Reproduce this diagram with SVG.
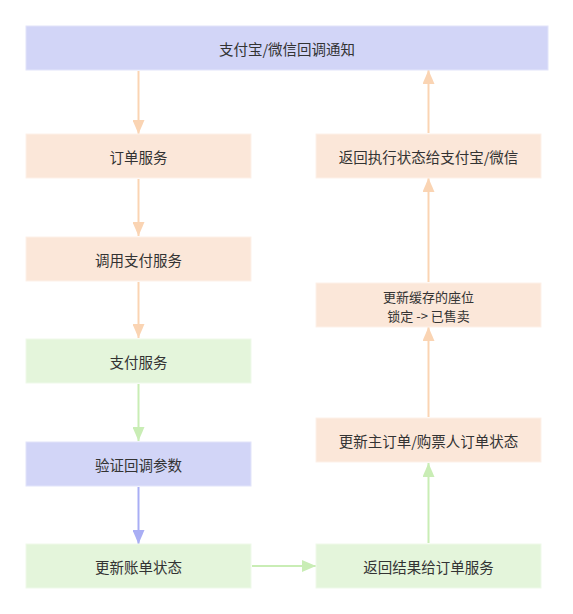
<svg xmlns="http://www.w3.org/2000/svg" width="573" height="614" viewBox="0 0 573 614">
<defs>
<style>
.t{font-family:"Noto Sans CJK SC","Noto Sans",sans-serif;font-size:14.5px;fill:#333;text-anchor:middle;dominant-baseline:central}
.s{font-size:13px}
.peach{fill:#fbe7d9;stroke:#fdf1e9;stroke-width:1}
.green{fill:#e4f5db;stroke:#eff9ea;stroke-width:1}
.blue{fill:#d2d5f7;stroke:#e2e4fa;stroke-width:1}
.lp{stroke:#fad4b3;stroke-width:2;fill:none}
.lg{stroke:#c9edb5;stroke-width:2;fill:none}
.lb{stroke:#a9aef4;stroke-width:2;fill:none}
</style>
<marker id="ap" markerUnits="userSpaceOnUse" markerWidth="14" markerHeight="12" refX="14" refY="6" orient="auto"><path d="M0,0 L14,6 L0,12 Z" fill="#fad4b3"/></marker>
<marker id="ag" markerUnits="userSpaceOnUse" markerWidth="14" markerHeight="12" refX="14" refY="6" orient="auto"><path d="M0,0 L14,6 L0,12 Z" fill="#c9edb5"/></marker>
<marker id="ab" markerUnits="userSpaceOnUse" markerWidth="14" markerHeight="12" refX="14" refY="6" orient="auto"><path d="M0,0 L14,6 L0,12 Z" fill="#a9aef4"/></marker>
</defs>
<rect width="573" height="614" fill="#fff"/>
<g id="connectors">
<line class="lp" x1="138.5" y1="71" x2="138.5" y2="134" marker-end="url(#ap)"/>
<line class="lp" x1="138.5" y1="179" x2="138.5" y2="236" marker-end="url(#ap)"/>
<line class="lp" x1="138.5" y1="282" x2="138.5" y2="338" marker-end="url(#ap)"/>
<line class="lg" x1="138.5" y1="384" x2="138.5" y2="441" marker-end="url(#ag)"/>
<line class="lb" x1="138.5" y1="487" x2="138.5" y2="544" marker-end="url(#ab)"/>
<line class="lg" x1="252" y1="566" x2="316" y2="566" marker-end="url(#ag)"/>
<line class="lg" x1="428.5" y1="543" x2="428.5" y2="463" marker-end="url(#ag)"/>
<line class="lp" x1="428.5" y1="417" x2="428.5" y2="327" marker-end="url(#ap)"/>
<line class="lp" x1="428.5" y1="282" x2="428.5" y2="178" marker-end="url(#ap)"/>
<line class="lp" x1="428.5" y1="133" x2="428.5" y2="70" marker-end="url(#ap)"/>
</g>
<g id="n-callback"><rect class="blue" x="26" y="26" width="522" height="44"/><text class="t" x="287" y="48">支付宝/微信回调通知</text></g>
<g id="n-order"><rect class="peach" x="26" y="134" width="225" height="44"/><text class="t" x="138.5" y="156">订单服务</text></g>
<g id="n-callpay"><rect class="peach" x="26" y="237" width="225" height="44"/><text class="t" x="138.5" y="259">调用支付服务</text></g>
<g id="n-pay"><rect class="green" x="26" y="339" width="225" height="44"/><text class="t" x="138.5" y="361">支付服务</text></g>
<g id="n-verify"><rect class="blue" x="26" y="442" width="225" height="44"/><text class="t" x="138.5" y="464">验证回调参数</text></g>
<g id="n-bill"><rect class="green" x="26" y="544" width="225" height="44"/><text class="t" x="138.5" y="566">更新账单状态</text></g>
<g id="n-result"><rect class="green" x="316" y="544" width="225" height="44"/><text class="t" x="428.5" y="566">返回结果给订单服务</text></g>
<g id="n-status"><rect class="peach" x="316" y="418" width="225" height="44"/><text class="t" x="428.5" y="440">更新主订单/购票人订单状态</text></g>
<g id="n-seat"><rect class="peach" x="316" y="283" width="225" height="44"/><text class="t s" x="428.5" y="296">更新缓存的座位</text><text class="t s" x="428.5" y="315">锁定 -&gt; 已售卖</text></g>
<g id="n-return"><rect class="peach" x="316" y="134" width="225" height="44"/><text class="t" x="428.5" y="156">返回执行状态给支付宝/微信</text></g>
</svg>
